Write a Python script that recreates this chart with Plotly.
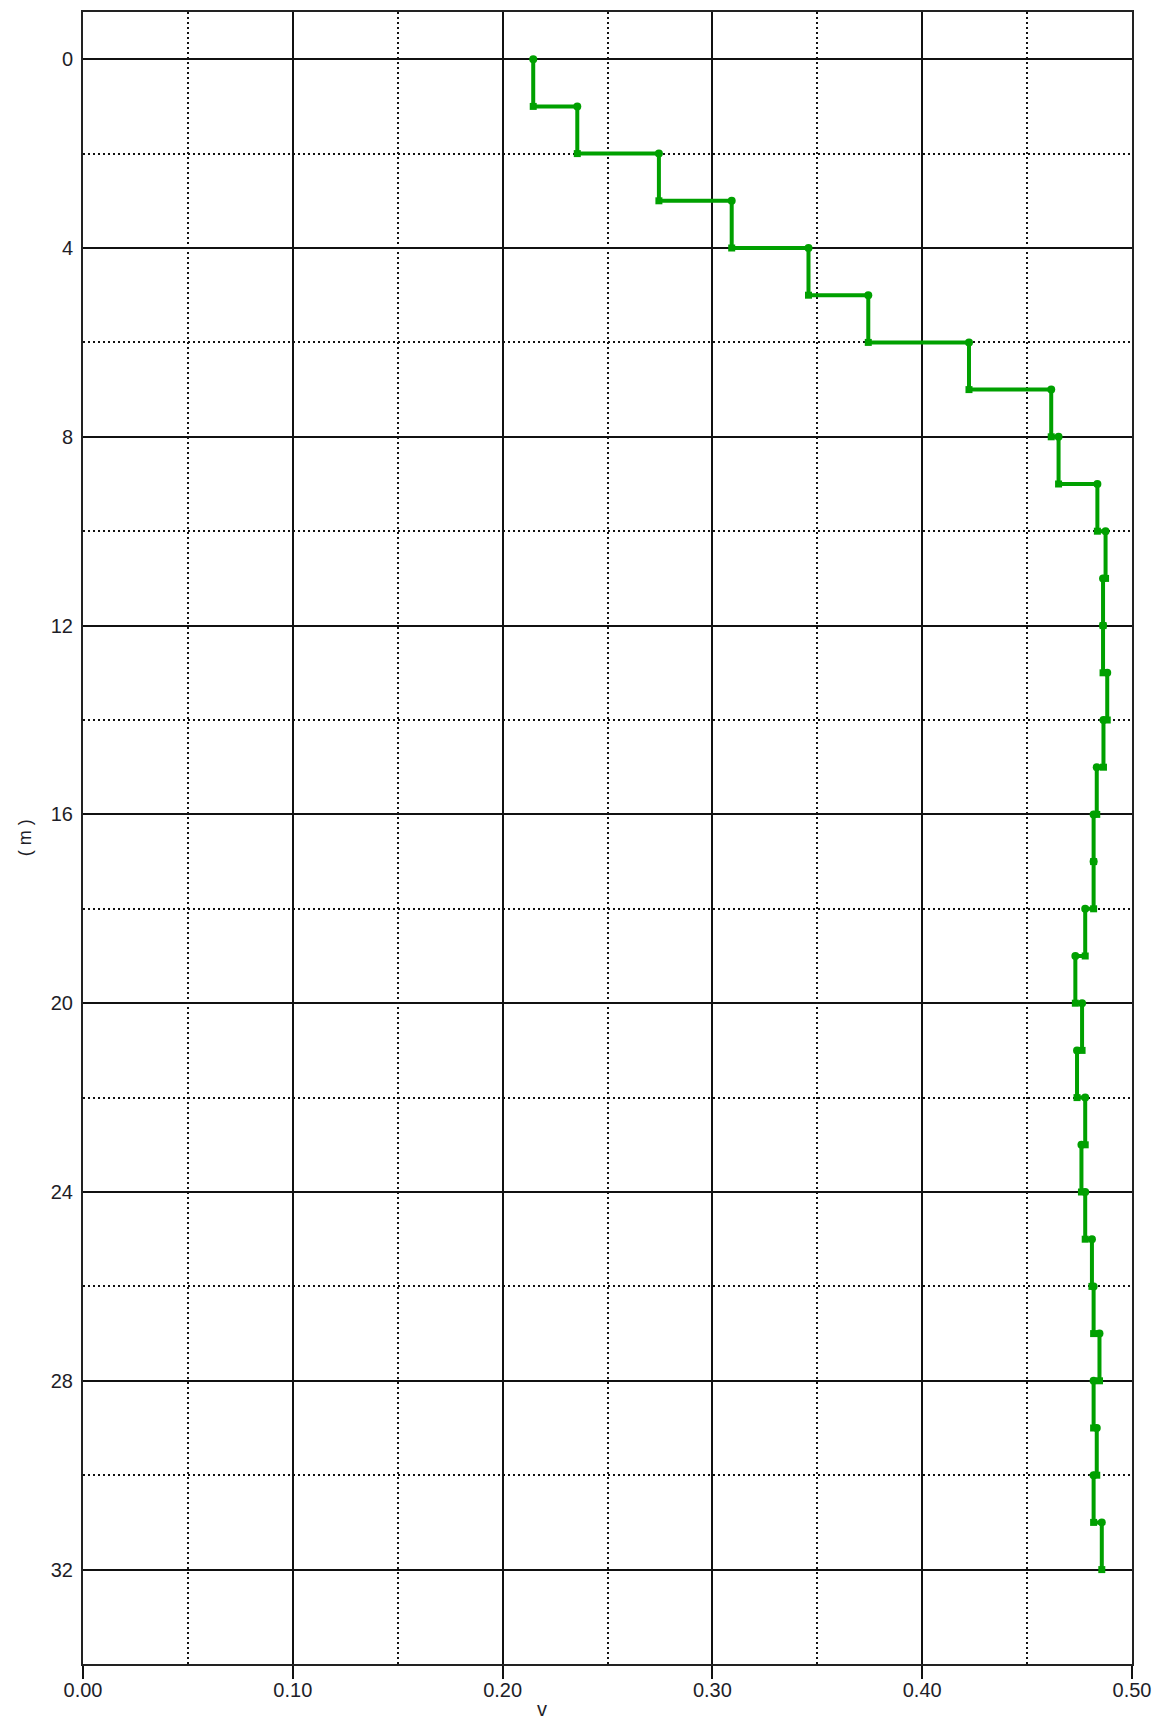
import plotly.graph_objects as go

# Layer values (v) for each 1 m layer, top of layer at depth i, bottom at i+1
layer_top = list(range(0, 32))
layer_v = [0.2146, 0.2356, 0.2745, 0.3092, 0.3458, 0.3743, 0.4223, 0.4615,
           0.4650, 0.4835, 0.4874, 0.4862, 0.4862, 0.4882, 0.4864, 0.4832,
           0.4817, 0.4817, 0.4777, 0.4730, 0.4762, 0.4738, 0.4777, 0.4759,
           0.4777, 0.4809, 0.4817, 0.4845, 0.4817, 0.4832, 0.4817, 0.4856]

x_ticks = [0.0, 0.1, 0.2, 0.3, 0.4, 0.5]
y_ticks = [0, 4, 8, 12, 16, 20, 24, 28, 32]

GREEN = "#00a000"
INK = "#1e1e28"
FONT = "Liberation Sans, Arial, sans-serif"

# Stepped profile: vertical run through each layer, horizontal jump between layers
step_x = []
step_y = []
for top, v in zip(layer_top, layer_v):
    step_x += [v, v]
    step_y += [top, top + 1]

fig = go.Figure()
fig.add_trace(go.Scatter(
    x=step_x, y=step_y, mode="lines",
    line=dict(color=GREEN, width=4),
    hoverinfo="skip", showlegend=False,
))
fig.add_trace(go.Scatter(
    x=layer_v, y=layer_top, mode="markers",
    marker=dict(symbol="circle", size=8, color=GREEN),
    showlegend=False,
))
fig.add_trace(go.Scatter(
    x=layer_v, y=[t + 1 for t in layer_top], mode="markers",
    marker=dict(symbol="square", size=7, color=GREEN),
    showlegend=False,
))

fig.update_layout(
    width=1161, height=1722,
    margin=dict(l=83, r=24, t=10, b=58),
    paper_bgcolor="white", plot_bgcolor="white",
    font=dict(family=FONT, size=20, color=INK),
    showlegend=False,
)

fig.update_xaxes(
    range=[0, 0.5],
    tickvals=x_ticks, ticktext=[f"{t:.2f}" for t in x_ticks],
    ticks="outside", ticklen=13, tickwidth=2, tickcolor="#111",
    ticklabelstandoff=-6,
    showgrid=True, gridcolor="#111", gridwidth=2,
    minor=dict(dtick=0.05, showgrid=True, gridcolor="#111", gridwidth=1.6,
               griddash="2px,3px", ticks=""),
    showline=True, linecolor="#222", linewidth=2, mirror=True,
    zeroline=False,
    tickfont=dict(family=FONT, size=20, color=INK),
)

fig.update_yaxes(
    range=[34, -1],
    tickvals=y_ticks, ticktext=[str(t) for t in y_ticks],
    ticks="", ticklabelstandoff=4,
    showgrid=True, gridcolor="#111", gridwidth=2,
    minor=dict(dtick=2, tick0=0, showgrid=True, gridcolor="#111", gridwidth=1.6,
               griddash="2px,3px", ticks=""),
    showline=True, linecolor="#222", linewidth=2, mirror=True,
    zeroline=False,
    tickfont=dict(family=FONT, size=20, color=INK),
)

# Axis captions
fig.add_annotation(
    text="v", xref="paper", yref="paper", x=0.438, y=-0.0275,
    xanchor="center", yanchor="middle", showarrow=False,
    font=dict(family=FONT, size=20, color=INK),
)
fig.add_annotation(
    text="( m )", xref="paper", yref="paper", x=-0.055, y=0.5,
    xanchor="center", yanchor="middle", textangle=-90, showarrow=False,
    font=dict(family=FONT, size=18, color=INK),
)

fig.write_html("out.html")
